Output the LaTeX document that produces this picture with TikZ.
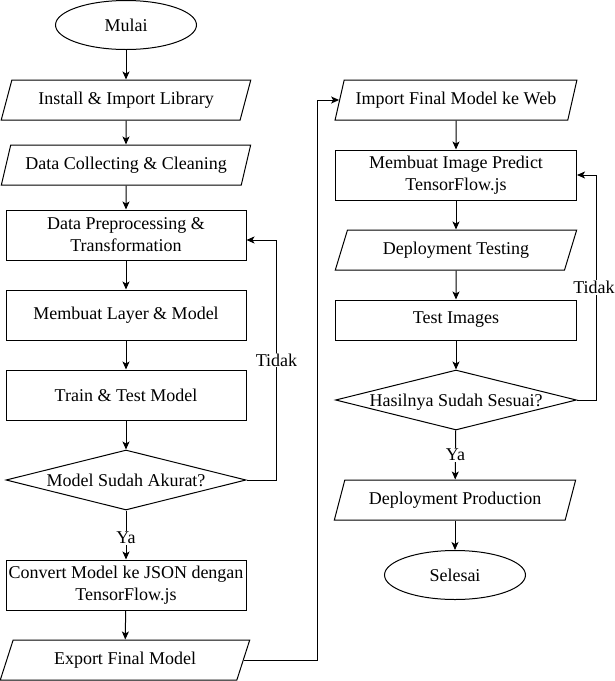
\documentclass[tikz,border=0pt]{standalone}
\usepackage{fontspec}
\setmainfont{Liberation Serif}
\usepackage{tikz}
\usetikzlibrary{arrows.meta}
\usetikzlibrary{shapes.geometric}

\begin{document}
\begin{tikzpicture}[x=1pt, y=-1pt, line width=1pt,
    every node/.style={font=\rmfamily\fontsize{18}{22}\selectfont, inner sep=0pt},
    terminal/.style={draw=black, ellipse, minimum width=141pt, minimum height=49pt},
    process/.style={draw=black, rectangle, minimum width=240pt, minimum height=50pt, align=center},
    io/.style={draw=black, trapezium, trapezium left angle=63.4, trapezium right angle=116.6,
      trapezium stretches=true, minimum width=#1, minimum height=40pt},
    io/.default=250pt,
    decision/.style={draw=black, diamond, shape aspect=4, minimum width=240pt, minimum height=60pt,
      text height=0pt, text depth=0pt},
    every edge/.style={draw=black, -{Stealth[length=8pt, width=7pt, inset=2pt]}},
    lbl/.style={fill=white, inner sep=1pt}]
    \useasboundingbox (0,0) rectangle (614,681);
    % kolom kiri
    \node[terminal] (A) at (126,25) {Mulai};
    \node[io] (B) at (126,100) {Install \& Import Library};
    \node[io] (C) at (126,165) {Data Collecting \& Cleaning};
    \node[process] (D) at (126,235) {Data Preprocessing \&\\Transformation};
    \node[process] (E) at (126,315) {Membuat Layer \& Model};
    \node[process] (F) at (126,395) {Train \& Test Model};
    \node[decision] (G) at (126,480) {\raisebox{-6pt}{Model Sudah Akurat?}};
    \node[process] (H) at (126,585) {Convert Model ke JSON dengan\\TensorFlow.js};
    \node[io] (I) at (125,660) {Export Final Model};
    % kolom kanan
    \node[io=242pt] (J) at (456,100) {Import Final Model ke Web};
    \node[process, minimum width=241pt] (K) at (456,175) {Membuat Image Predict\\TensorFlow.js};
    \node[io=242pt] (L) at (456,250) {Deployment Testing};
    \node[process, minimum width=241pt, minimum height=40pt] (M) at (456,320) {Test Images};
    \node[decision, minimum width=241pt] (N) at (456,400) {\raisebox{-6pt}{Hasilnya Sudah Sesuai?}};
    \node[io=242pt] (O) at (455,500) {Deployment Production};
    \node[terminal] (P) at (455,575) {Selesai};
    \path (A) edge (B);
    \path (B) edge (C);
    \path (C) edge (D);
    \path (D) edge (E);
    \path (E) edge (F);
    \path (F) edge (G);
    \path (G) edge node[lbl, yshift=-3pt] {Ya} (H);
    \path (H) edge (I);
    \draw[-{Stealth[length=8pt, width=7pt, inset=2pt]}] (G.east) -- ++(30,0) |- node[lbl, pos=0.25] {Tidak} ([yshift=-5pt]D.east);
    \draw[-{Stealth[length=8pt, width=7pt, inset=2pt]}] (I.east) -- ++(74,0) |- (J.west);
    \path (J) edge (K);
    \path (K) edge (L);
    \path (L) edge (M);
    \path (M) edge (N);
    \path (N) edge node[lbl] {Ya} (O);
    \path (O) edge (P);
    \draw[-{Stealth[length=8pt, width=7pt, inset=2pt]}] (N.east) -- ++(19,0) |- node[lbl, pos=0.25, xshift=-2pt] {Tidak} (K.east);
\end{tikzpicture}
\end{document}
